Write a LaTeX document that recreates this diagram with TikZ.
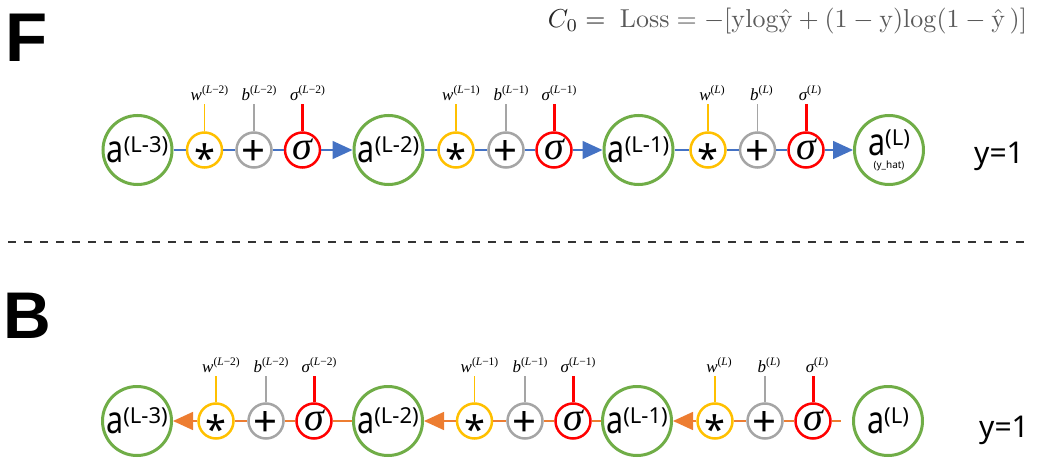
\documentclass[tikz,border=0pt]{standalone}
\usepackage{amsmath}
\usepackage[no-math]{fontspec}
\usepackage{graphicx}
\usetikzlibrary{arrows.meta}
\setmainfont{Noto Sans}
\newfontfamily\tms{Liberation Serif}
\newfontfamily\hdf{Liberation Sans}
\definecolor{grn}{HTML}{70AD47}
\definecolor{yel}{HTML}{FFC000}
\definecolor{gry}{HTML}{A5A5A5}
\definecolor{rd}{HTML}{FF0000}
\definecolor{blu}{HTML}{4472C4}
\definecolor{org}{HTML}{ED7D31}
\definecolor{eqg}{HTML}{5A5A5A}
\newcommand{\act}[1]{\scalebox{0.8}[1]{\fontsize{38}{38}\selectfont a}\raisebox{10pt}{\fontsize{22}{22}\selectfont(#1)}}
\newcommand{\lab}[2]{{\tms\fontsize{17}{17}\selectfont\itshape #1}\raisebox{6.5pt}{\tms\fontsize{11.5}{11.5}\selectfont(#2)}}
\newcommand{\symstar}{\smash{\raisebox{-22pt}{\fontsize{38}{38}\selectfont *}}}
\newcommand{\symplus}{\smash{\raisebox{-15pt}{\fontsize{42}{42}\selectfont +}}}
\newcommand{\symsig}{\smash{\raisebox{-9pt}{\tms\fontsize{40}{40}\selectfont\itshape σ}}}
\tikzset{
  bignode/.style={circle, draw=grn, line width=3pt, minimum size=69pt, inner sep=0pt},
  starnode/.style={circle, draw=yel, line width=2.5pt, minimum size=35pt, inner sep=0pt},
  plusnode/.style={circle, draw=gry, line width=2.5pt, minimum size=35pt, inner sep=0pt},
  signode/.style={circle, draw=rd, line width=2.5pt, minimum size=35pt, inner sep=0pt},
  labnode/.style={inner sep=0pt},
  fwd/.style={draw=blu, line width=1.5pt},
  bwd/.style={draw=org, line width=1.5pt},
  fwdarrow/.style={fwd, -{Triangle[length=20pt,width=18pt]}},
  bwdarrow/.style={bwd, -{Triangle[length=20pt,width=18pt]}},
  ystem/.style={draw=yel, line width=1.5pt},
  gstem/.style={draw=gry, line width=1.2pt},
  rstem/.style={draw=rd, line width=3pt},
}
\begin{document}
\begin{tikzpicture}[x=1pt,y=-1pt]
\useasboundingbox (0,0) rectangle (1037,460);
% headings
\node[anchor=base west, inner sep=0pt, font=\hdf\bfseries\fontsize{69}{69}\selectfont] (F) at (5,62) {F};
\node[anchor=base west, inner sep=0pt, font=\hdf\bfseries\fontsize{66}{66}\selectfont] (B) at (3,338) {B};
\node[inner sep=0pt] (eq) at (787.5,21) {\resizebox{479pt}{!}{$\color{black!85}C_0 = {}\;\color{eqg}\mathrm{Loss}=-[\mathrm{y}\mathrm{log}\hat{\mathrm{y}}+(1-\mathrm{y})\mathrm{log}(1-\hat{\mathrm{y}}\,)]$}};
% dashed separator
\coordinate (dl) at (8,242);
\coordinate (dr) at (1028,242);
\draw[black!80, line width=2.5pt, dash pattern=on 8pt off 8pt] (dl) -- (dr);

% ---------- Forward row ----------
\node[bignode] (fA3) at (137.5,150) {\act{L-3}};
\node[starnode] (fs1) at (204.5,150) {\symstar};
\node[plusnode] (fp1) at (254,150) {\symplus};
\node[signode] (fg1) at (302.5,150) {\symsig};
\node[bignode] (fA2) at (388.5,150) {\act{L-2}};
\node[starnode] (fs2) at (456,150) {\symstar};
\node[plusnode] (fp2) at (506,150) {\symplus};
\node[signode] (fg2) at (554,150) {\symsig};
\node[bignode] (fA1) at (638.5,150) {\act{L-1}};
\node[starnode] (fs3) at (708,150) {\symstar};
\node[plusnode] (fp3) at (757.5,150) {\symplus};
\node[signode] (fg3) at (806,150) {\symsig};
\node[bignode, align=center] (fAL) at (889,150) {\act{L}\\[1pt]{\fontsize{10}{10}\selectfont(y\_hat)}};
\node[anchor=base west, inner sep=0pt, font=\fontsize{30}{30}\selectfont] (fy) at (974,163) {y=1};

\draw[fwd] (fA3) -- (fs1);
\draw[fwd] (fs1) -- (fp1);
\draw[fwd] (fp1) -- (fg1);
\draw[fwdarrow] (fg1) -- (fA2);
\draw[fwd] (fA2) -- (fs2);
\draw[fwd] (fs2) -- (fp2);
\draw[fwd] (fp2) -- (fg2);
\draw[fwdarrow] (fg2) -- (fA1);
\draw[fwd] (fA1) -- (fs3);
\draw[fwd] (fs3) -- (fp3);
\draw[fwd] (fp3) -- (fg3);
\draw[fwdarrow] (fg3) -- (fAL);

\node[labnode] (fw1) at (209.5,93) {\lab{w}{\textit{L}−2}};
\node[labnode] (fb1) at (259,93) {\lab{b}{\textit{L}−2}};
\node[labnode] (fr1) at (307.5,93) {\lab{σ}{\textit{L}−2}};
\node[labnode] (fw2) at (461,93) {\lab{w}{\textit{L}−1}};
\node[labnode] (fb2) at (511,93) {\lab{b}{\textit{L}−1}};
\node[labnode] (fr2) at (559,93) {\lab{σ}{\textit{L}−1}};
\node[labnode] (fw3) at (712,93) {\lab{w}{\textit{L}}};
\node[labnode] (fb3) at (761.5,93) {\lab{b}{\textit{L}}};
\node[labnode] (fr3) at (810,93) {\lab{σ}{\textit{L}}};
\draw[ystem] (fs1.north) -- ++(0,-27.5);
\draw[gstem] (fp1.north) -- ++(0,-27.5);
\draw[rstem] (fg1.north) -- ++(0,-27.5);
\draw[ystem] (fs2.north) -- ++(0,-27.5);
\draw[gstem] (fp2.north) -- ++(0,-27.5);
\draw[rstem] (fg2.north) -- ++(0,-27.5);
\draw[ystem] (fs3.north) -- ++(0,-27.5);
\draw[gstem] (fp3.north) -- ++(0,-27.5);
\draw[rstem] (fg3.north) -- ++(0,-27.5);

% ---------- Backward row ----------
\node[bignode] (bA3) at (137,421) {\act{L-3}};
\node[starnode] (bs1) at (216,421) {\symstar};
\node[plusnode] (bp1) at (266,421) {\symplus};
\node[signode] (bg1) at (314,421) {\symsig};
\node[bignode] (bA2) at (388,421) {\act{L-2}};
\node[starnode] (bs2) at (474.5,421) {\symstar};
\node[plusnode] (bp2) at (525,421) {\symplus};
\node[signode] (bg2) at (573,421) {\symsig};
\node[bignode] (bA1) at (637,421) {\act{L-1}};
\node[starnode] (bs3) at (715,421) {\symstar};
\node[plusnode] (bp3) at (765,421) {\symplus};
\node[signode] (bg3) at (813,421) {\symsig};
\node[bignode] (bAL) at (888,421) {\act{L}};
\coordinate (bend) at (841,421);
\node[anchor=base west, inner sep=0pt, font=\fontsize{30}{30}\selectfont] (by) at (979,437) {y=1};

\draw[bwdarrow] (bs1) -- (bA3);
\draw[bwd] (bs1) -- (bp1);
\draw[bwd] (bp1) -- (bg1);
\draw[bwd] (bg1) -- (bA2);
\draw[bwdarrow] (bs2) -- (bA2);
\draw[bwd] (bs2) -- (bp2);
\draw[bwd] (bp2) -- (bg2);
\draw[bwd] (bg2) -- (bA1);
\draw[bwdarrow] (bs3) -- (bA1);
\draw[bwd] (bs3) -- (bp3);
\draw[bwd] (bp3) -- (bg3);
\draw[bwd] (bg3) -- (bend);

\node[labnode] (bw1) at (221,365) {\lab{w}{\textit{L}−2}};
\node[labnode] (bb1) at (271,365) {\lab{b}{\textit{L}−2}};
\node[labnode] (br1) at (319,365) {\lab{σ}{\textit{L}−2}};
\node[labnode] (bw2) at (479.5,365) {\lab{w}{\textit{L}−1}};
\node[labnode] (bb2) at (530,365) {\lab{b}{\textit{L}−1}};
\node[labnode] (br2) at (578,365) {\lab{σ}{\textit{L}−1}};
\node[labnode] (bw3) at (719,365) {\lab{w}{\textit{L}}};
\node[labnode] (bb3) at (769,365) {\lab{b}{\textit{L}}};
\node[labnode] (br3) at (817,365) {\lab{σ}{\textit{L}}};
\draw[ystem] (bs1.north) -- ++(0,-26.5);
\draw[gstem] (bp1.north) -- ++(0,-26.5);
\draw[rstem] (bg1.north) -- ++(0,-26.5);
\draw[ystem] (bs2.north) -- ++(0,-26.5);
\draw[gstem] (bp2.north) -- ++(0,-26.5);
\draw[rstem] (bg2.north) -- ++(0,-26.5);
\draw[ystem] (bs3.north) -- ++(0,-26.5);
\draw[gstem] (bp3.north) -- ++(0,-26.5);
\draw[rstem] (bg3.north) -- ++(0,-26.5);
\end{tikzpicture}
\end{document}
